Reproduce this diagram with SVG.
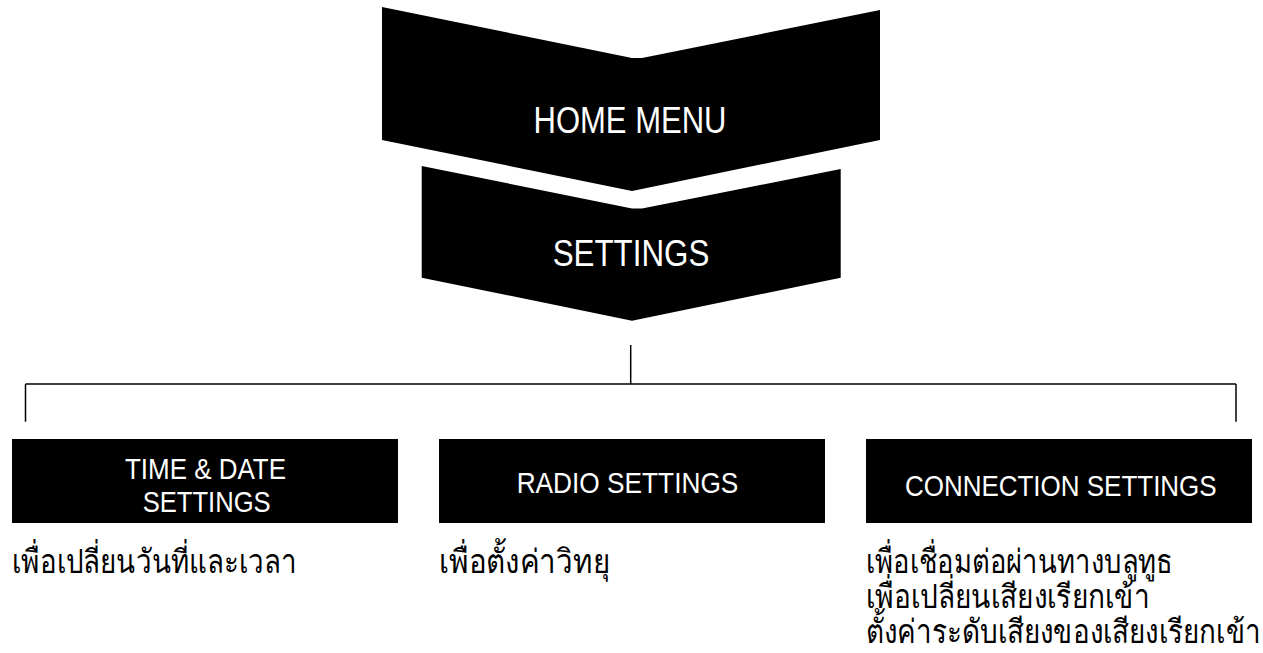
<svg xmlns="http://www.w3.org/2000/svg" width="1263" height="653" viewBox="0 0 1263 653">
  <style>
    .shape { fill: #000; }
    .lbl { fill: #fff; font-family: "Liberation Sans", Arial, sans-serif; text-anchor: middle; }
    .big { font-size: 36.5px; }
    .box { font-size: 29.5px; }
    .th { fill: #000; font-family: "Noto Sans", "DejaVu Sans", sans-serif; font-size: 33px; }
    .conn { stroke: #000; stroke-width: 1.5; fill: none; }
  </style>
  <rect width="1263" height="653" fill="#fff"/>

  <g id="home-menu">
    <polygon class="shape" points="382,7 632,58 642,58 880,10 880,140 632,191 382,140"/>
    <text class="lbl big" x="630" y="133" textLength="193" lengthAdjust="spacingAndGlyphs">HOME MENU</text>
  </g>

  <g id="settings">
    <polygon class="shape" points="421.7,166 632,208.5 642,208.5 840.7,169 840.7,277.7 632,320.7 421.7,277.7"/>
    <text class="lbl big" x="631" y="265.5" textLength="156.7" lengthAdjust="spacingAndGlyphs">SETTINGS</text>
  </g>

  <g id="connectors">
    <line class="conn" x1="630.7" y1="345" x2="630.7" y2="384"/>
    <line class="conn" x1="25.5" y1="384" x2="1236" y2="384"/>
    <line class="conn" x1="25.5" y1="384" x2="25.5" y2="421.7"/>
    <line class="conn" x1="1236" y1="384" x2="1236" y2="421.7"/>
  </g>

  <g id="time-date-settings">
    <rect class="shape" x="12" y="439" width="386" height="84"/>
    <text class="lbl box" x="205.5" y="478.5" textLength="161" lengthAdjust="spacingAndGlyphs">TIME &amp; DATE</text>
    <text class="lbl box" x="206.7" y="512.3" textLength="128" lengthAdjust="spacingAndGlyphs">SETTINGS</text>
    <text class="th" x="12" y="573" textLength="285" lengthAdjust="spacingAndGlyphs">เพื่อเปลี่ยนวันที่และเวลา</text>
  </g>

  <g id="radio-settings">
    <rect class="shape" x="439" y="439" width="386" height="84"/>
    <text class="lbl box" x="627.5" y="493.3" textLength="221.7" lengthAdjust="spacingAndGlyphs">RADIO SETTINGS</text>
    <text class="th" x="439" y="573" textLength="171" lengthAdjust="spacingAndGlyphs">เพื่อตั้งค่าวิทยุ</text>
  </g>

  <g id="connection-settings">
    <rect class="shape" x="866" y="439" width="386" height="84"/>
    <text class="lbl box" x="1060.8" y="495.7" textLength="311.7" lengthAdjust="spacingAndGlyphs">CONNECTION SETTINGS</text>
    <text class="th" x="866" y="573" textLength="307" lengthAdjust="spacingAndGlyphs">เพื่อเชื่อมต่อผ่านทางบลูทูธ</text>
    <text class="th" x="866" y="608" textLength="284" lengthAdjust="spacingAndGlyphs">เพื่อเปลี่ยนเสียงเรียกเข้า</text>
    <text class="th" x="866" y="643" textLength="395" lengthAdjust="spacingAndGlyphs">ตั้งค่าระดับเสียงของเสียงเรียกเข้า</text>
  </g>
</svg>
